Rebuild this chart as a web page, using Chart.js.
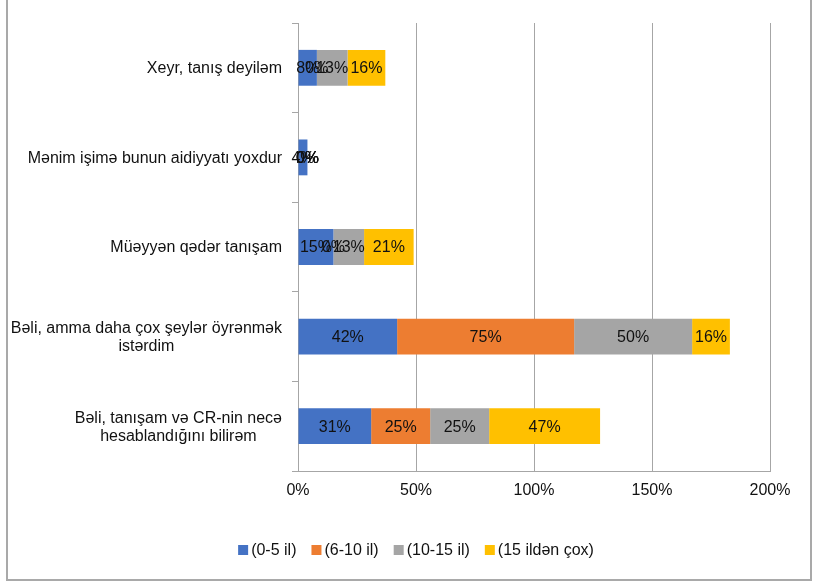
<!DOCTYPE html>
<html>
<head>
<meta charset="utf-8">
<script src="https://cdn.jsdelivr.net/npm/chart.js@4/dist/chart.umd.min.js"></script>
<style>
  html, body { margin: 0; padding: 0; background: #fff; }
  #wrap { position: relative; width: 815px; height: 583px; overflow: hidden; }
  #frame { position: absolute; left: 6px; top: -4px; width: 806px; height: 585px;
           border-left: 2px solid #a9a9a9; border-right: 2px solid #a9a9a9; border-bottom: 2px solid #a9a9a9; box-sizing: border-box; }
  canvas { position: absolute; left: 0; top: 0; }
</style>
</head>
<body>
<div id="wrap">
  <canvas id="c" width="815" height="583"></canvas>
  <div id="frame"></div>
</div>
<script>
const categories = [
  "Xeyr, tanış deyiləm",
  "Mənim işimə bunun aidiyyatı yoxdur",
  "Müəyyən qədər tanışam",
  ["Bəli, amma daha çox şeylər öyrənmək", "istərdim"],
  ["Bəli, tanışam və CR-nin necə", "hesablandığını bilirəm"]
];
const seriesNames = ["(0-5 il)", "(6-10 il)", "(10-15 il)", "(15 ildən çox)"];
const s0to5 = [8, 4, 15, 42, 31];
const s6to10 = [0, 0, 0, 75, 25];
const s10to15 = [13, 0, 13, 50, 25];
const s15plus = [16, 0, 21, 16, 47];
const xTicks = [0, 50, 100, 150, 200];

const colors = ["#4472C4", "#ED7D31", "#A5A5A5", "#FFC000"];
const FONT = "'Liberation Sans', Arial, sans-serif";
const FS = 16;

const valueLabels = {
  id: 'valueLabels',
  afterDatasetsDraw(chart) {
    const ctx = chart.ctx;
    ctx.save();
    ctx.font = FS + "px " + FONT;
    ctx.fillStyle = "#111";
    ctx.textAlign = "center";
    ctx.textBaseline = "middle";
    chart.data.datasets.forEach((ds, di) => {
      const meta = chart.getDatasetMeta(di);
      meta.data.forEach((el, i) => {
        const p = el.getProps(['x', 'base', 'y'], true);
        const cx = (p.x + p.base) / 2;
        ctx.fillText(ds.data[i] + "%", cx, p.y + 1);
      });
    });
    ctx.restore();
  }
};

const catLabels = {
  id: 'catLabels',
  afterDraw(chart) {
    const ctx = chart.ctx;
    const ys = chart.scales.y;
    const right = chart.chartArea.left - 16;
    ctx.save();
    ctx.font = FS + "px " + FONT;
    ctx.fillStyle = "#111";
    ctx.textAlign = "center";
    ctx.textBaseline = "middle";
    categories.forEach((lab, i) => {
      const lines = Array.isArray(lab) ? lab : [lab];
      const w = Math.max(...lines.map(l => ctx.measureText(l).width));
      const cx = right - w / 2;
      const cy = ys.getPixelForValue(i);
      const lh = 18;
      lines.forEach((l, j) => {
        ctx.fillText(l, cx, cy + (j - (lines.length - 1) / 2) * lh + 1);
      });
    });
    ctx.restore();
  }
};

const customLegend = {
  id: 'customLegend',
  afterDraw(chart) {
    const ctx = chart.ctx;
    ctx.save();
    ctx.font = FS + "px " + FONT;
    ctx.textBaseline = "middle";
    ctx.textAlign = "left";
    const box = 10, gap = 3, spacing = 15;
    const items = chart.data.datasets.map(ds => ({ t: ds.label, c: ds.backgroundColor, w: ctx.measureText(ds.label).width }));
    const total = items.reduce((a, it) => a + box + gap + it.w, 0) + spacing * (items.length - 1);
    let x = 416 - total / 2;
    const y = 550;
    items.forEach(it => {
      ctx.fillStyle = it.c;
      ctx.fillRect(x, y - box / 2, box, box);
      ctx.fillStyle = "#111";
      ctx.fillText(it.t, x + box + gap, y + 1);
      x += box + gap + it.w + spacing;
    });
    ctx.restore();
  }
};

const data = {
  labels: categories,
  datasets: [s0to5, s6to10, s10to15, s15plus].map((d, i) => ({
    label: seriesNames[i],
    data: d,
    backgroundColor: colors[i],
    borderWidth: 0,
    barPercentage: 0.5,
    categoryPercentage: 0.8
  }))
};

new Chart(document.getElementById('c'), {
  type: 'bar',
  data,
  plugins: [valueLabels, catLabels, customLegend],
  options: {
    indexAxis: 'y',
    responsive: false,
    animation: false,
    devicePixelRatio: 1,
    layout: { padding: { left: 0, right: 45, top: 23, bottom: 50 } },
    plugins: {
      tooltip: { enabled: false },
      legend: { display: false }
    },
    scales: {
      x: {
        stacked: true,
        min: 0,
        max: 200,
        afterBuildTicks(s) { s.ticks = xTicks.map(v => ({ value: v })); },
        afterFit(s) { s.height = 62; },
        ticks: {
          callback: v => v + "%",
          font: { size: FS, family: FONT },
          color: "#111",
          padding: 10
        },
        grid: { color: "#a6a6a6", lineWidth: 1, drawTicks: false },
        border: { display: true, color: "#a6a6a6", width: 1 }
      },
      y: {
        stacked: true,
        afterFit(s) { s.width = 298; },
        ticks: { display: false },
        grid: { color: "#a6a6a6", drawOnChartArea: false, drawTicks: true, tickLength: 6, offset: true },
        border: { display: true, color: "#a6a6a6", width: 1 }
      }
    }
  }
});
</script>
</body>
</html>
